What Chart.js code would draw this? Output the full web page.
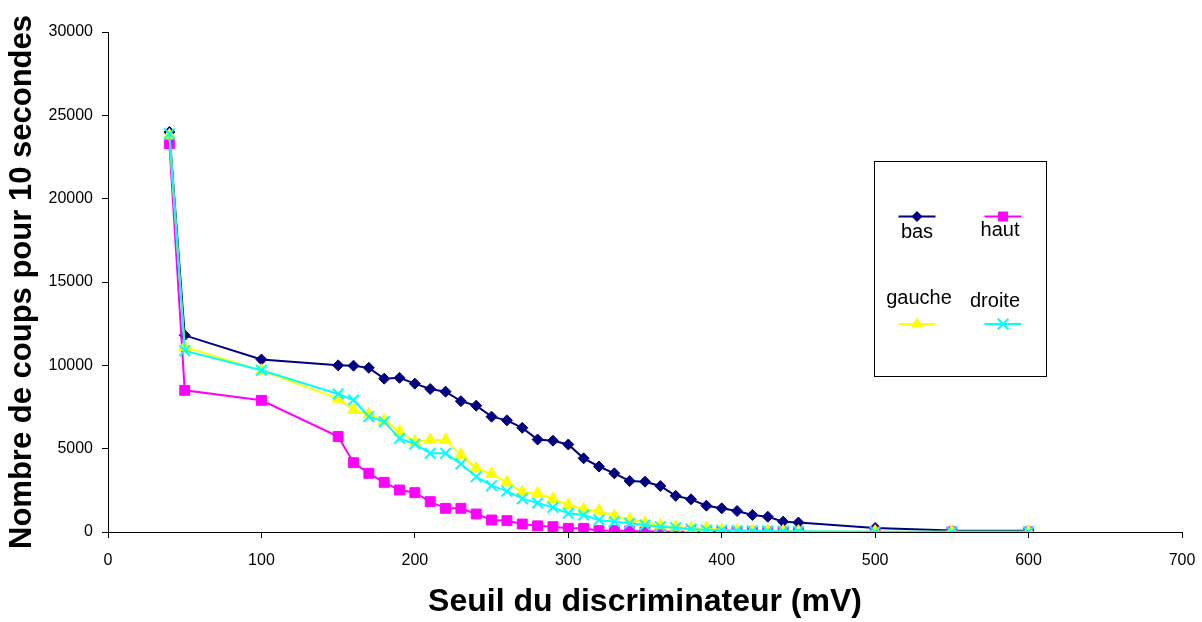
<!DOCTYPE html>
<html lang="fr">
<head>
<meta charset="UTF-8" />
<title>Seuil du discriminateur</title>
<script src="https://cdn.jsdelivr.net/npm/chart.js"></script>
<style>
  body { margin: 0; background: #fff; }
  #wrap { width: 1202px; height: 622px; position: relative; }
</style>
</head>
<body>
<div id="wrap"><canvas id="seuilChart"></canvas></div>

<script>
  // threshold values (mV)
  const seuils = [40, 50, 100, 150, 160, 170, 180, 190, 200, 210, 220, 230, 240, 250, 260, 270, 280,
                  290, 300, 310, 320, 330, 340, 350, 360, 370, 380, 390, 400, 410, 420, 430, 440, 450,
                  500, 550, 600];

  // counts per 10 s, one array per detector
  const bas = [24000, 11800, 10350, 10000, 9980, 9850, 9200, 9250, 8900, 8580, 8420, 7850, 7580, 6920,
               6700, 6250, 5550, 5480, 5250, 4420, 3930, 3520, 3060, 3020, 2760, 2170, 1960, 1580, 1420,
               1260, 1020, 920, 620, 570, 240, 90, 70];
  const haut = [23300, 8500, 7900, 5730, 4160, 3520, 2980, 2520, 2360, 1820, 1420, 1420, 1080, 720,
                680, 480, 370, 320, 220, 220, 80, 80, 60, 40, 30, 20, 20, 10, 10, 10, 10, 5, 5, 5,
                5, 5, 5];
  const gauche = [23800, 11100, 9680, 8000, 7320, 7060, 6680, 6020, 5420, 5520, 5520, 4620, 3820, 3480,
                  2980, 2400, 2320, 1980, 1620, 1360, 1280, 960, 760, 560, 400, 320, 220, 220, 120, 80,
                  60, 50, 40, 30, 20, 10, 10];
  const droite = [23900, 10880, 9700, 8280, 7920, 6920, 6620, 5620, 5280, 4720, 4720, 4080, 3320, 2780,
                  2450, 2000, 1740, 1480, 1120, 1020, 720, 620, 520, 420, 320, 260, 180, 120, 110, 90,
                  70, 60, 50, 40, 20, 10, 10];

  const FONT = "'Liberation Sans', Arial, sans-serif";

  function pts(values) {
    return seuils.map((x, i) => ({ x: x, y: values[i] }));
  }

  function serie(label, values, color, style, radius, order) {
    return {
      label: label,
      data: pts(values),
      borderColor: color,
      backgroundColor: color,
      pointBackgroundColor: color,
      pointBorderColor: color,
      pointStyle: style,
      pointRadius: radius,
      pointBorderWidth: style === 'crossRot' ? 2 : 1,
      borderWidth: 2,
      tension: 0,
      order: order
    };
  }

  // marker shapes for the legend box
  function marker(ctx, style, color, x, y, r) {
    ctx.save();
    ctx.fillStyle = color;
    ctx.strokeStyle = color;
    ctx.lineWidth = 2;
    ctx.beginPath();
    if (style === 'rectRot') {
      ctx.moveTo(x, y - r); ctx.lineTo(x + r, y); ctx.lineTo(x, y + r); ctx.lineTo(x - r, y);
      ctx.closePath(); ctx.fill();
    } else if (style === 'rect') {
      const s = r * Math.SQRT1_2;
      ctx.rect(x - s, y - s, 2 * s, 2 * s); ctx.fill();
    } else if (style === 'triangle') {
      ctx.moveTo(x, y - r); ctx.lineTo(x + r * 0.866, y + r / 2); ctx.lineTo(x - r * 0.866, y + r / 2);
      ctx.closePath(); ctx.fill();
    } else {
      const s = r * Math.SQRT1_2;
      ctx.moveTo(x - s, y - s); ctx.lineTo(x + s, y + s);
      ctx.moveTo(x + s, y - s); ctx.lineTo(x - s, y + s);
      ctx.stroke();
    }
    ctx.restore();
  }

  const boxLegend = {
    id: 'boxLegend',
    afterDraw(chart) {
      const ctx = chart.ctx;
      ctx.save();
      ctx.strokeStyle = '#000';
      ctx.lineWidth = 1;
      ctx.strokeRect(874.5, 161.5, 172, 215);

      const items = [
        { text: 'bas', color: '#000080', style: 'rectRot', r: 5.5, lx: 917, ly: 216.5, tx: 917, ty: 232 },
        { text: 'haut', color: '#FF00FF', style: 'rect', r: 7, lx: 1003, ly: 216.5, tx: 1000, ty: 230 },
        { text: 'gauche', color: '#FFFF00', style: 'triangle', r: 7, lx: 917, ly: 324, tx: 919, ty: 298 },
        { text: 'droite', color: '#00FFFF', style: 'crossRot', r: 7.5, lx: 1003, ly: 324, tx: 995, ty: 301 }
      ];
      ctx.font = '20px ' + FONT;
      ctx.textAlign = 'center';
      ctx.textBaseline = 'middle';
      items.forEach(it => {
        ctx.strokeStyle = it.color;
        ctx.lineWidth = 2;
        ctx.beginPath();
        ctx.moveTo(it.lx - 18.5, it.ly);
        ctx.lineTo(it.lx + 18.5, it.ly);
        ctx.stroke();
        marker(ctx, it.style, it.color, it.lx, it.ly, it.r);
        ctx.fillStyle = '#000';
        ctx.fillText(it.text, it.tx, it.ty);
      });
      ctx.restore();
    }
  };

  new Chart(document.getElementById('seuilChart'), {
    type: 'line',
    data: {
      datasets: [
        serie('bas', bas, '#000080', 'rectRot', 5.5, 4),
        serie('haut', haut, '#FF00FF', 'rect', 7, 3),
        serie('gauche', gauche, '#FFFF00', 'triangle', 7, 2),
        serie('droite', droite, '#00FFFF', 'crossRot', 7.5, 1)
      ]
    },
    options: {
      responsive: true,
      maintainAspectRatio: false,
      animation: false,
      layout: { padding: { left: 0, right: 20, top: 32, bottom: 0 } },
      plugins: {
        legend: { display: false },
        tooltip: { enabled: false }
      },
      scales: {
        x: {
          type: 'linear',
          min: 0,
          max: 700,
          ticks: { stepSize: 100, color: '#000', font: { family: FONT, size: 16 }, padding: 13, maxRotation: 0 },
          grid: { drawOnChartArea: false, drawTicks: true, tickLength: 6, color: '#000' },
          border: { color: '#000', width: 1 },
          title: {
            display: true,
            text: 'Seuil du discriminateur (mV)',
            color: '#000',
            font: { family: FONT, size: 32, weight: 'bold' },
            padding: { top: 0, bottom: 1 }
          },
          afterFit(scale) {
            scale.height = 90;
            scale.paddingLeft = 0;
            scale.paddingRight = 0;
          }
        },
        y: {
          min: 0,
          max: 30000,
          ticks: {
            stepSize: 5000, color: '#000', font: { family: FONT, size: 16 }, padding: 9,
            callback: (v) => String(v)
          },
          grid: { drawOnChartArea: false, drawTicks: true, tickLength: 6, color: '#000' },
          border: { color: '#000', width: 1 },
          title: {
            display: true,
            text: 'Nombre de coups pour 10 secondes',
            color: '#000',
            font: { family: FONT, size: 31, weight: 'bold' },
            padding: { top: 4, bottom: 0 }
          },
          afterFit(scale) { scale.width = 108; }
        }
      }
    },
    plugins: [boxLegend]
  });
</script>
</body>
</html>
